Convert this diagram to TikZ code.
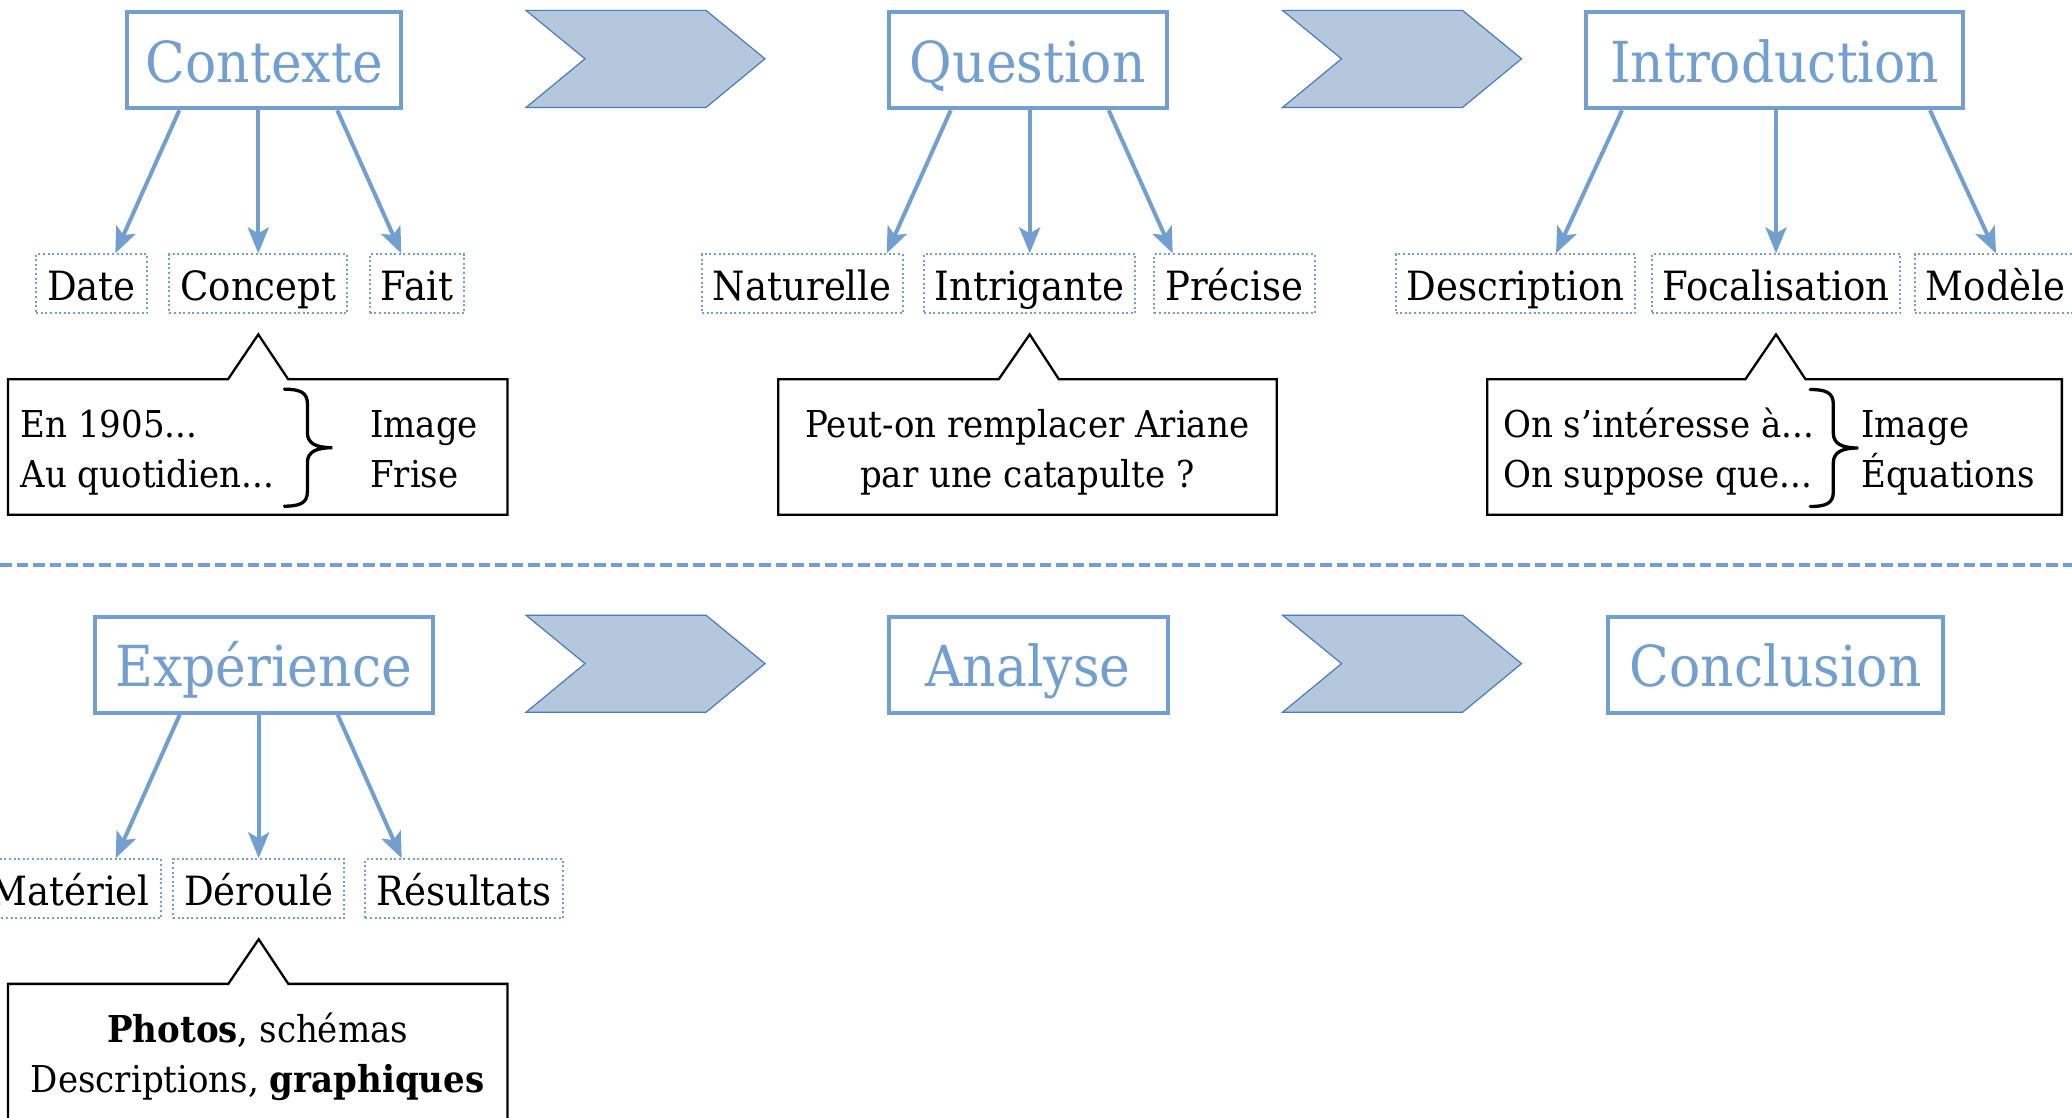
\documentclass[tikz,border=0pt]{standalone}
\usepackage{fontspec}
\setmainfont{DejaVu Serif}[FakeStretch=0.92]
\usetikzlibrary{arrows.meta,calc,shapes.callouts}
\definecolor{lblue}{HTML}{729FCF}
\definecolor{chfill}{HTML}{B4C7DC}
\definecolor{chdraw}{HTML}{4A7BB7}
\tikzset{
 titlebox/.style={draw=lblue, line width=4pt, text=lblue, font=\fontsize{56.5}{60}\selectfont,
   inner xsep=0pt, inner ysep=0pt, minimum height=96pt, text height=70pt, text depth=26pt},
 leaf/.style={draw=lblue, line width=2pt, dash pattern=on 2pt off 2.6pt, font=\fontsize{40.3}{44}\selectfont,
   inner xsep=11pt, inner ysep=0pt, text height=46pt, text depth=13pt},
 arr/.style={draw=lblue, line width=4pt, -{Stealth[length=26pt,width=21pt,inset=6pt]}},
 chev/.style={fill=chfill, draw=chdraw, line width=1.2pt, line join=miter},
 bubble/.style={rectangle callout, draw=black, line width=2.3pt, callout pointer width=60pt,
   inner sep=0pt, minimum height=135.5pt},
 ctext/.style={font=\fontsize{37}{50}\selectfont, inner sep=0pt},
 sepline/.style={draw=lblue, line width=4pt, dash pattern=on 11.5pt off 5pt},
 cbrace/.pic={\draw[line width=3.3pt, line cap=round] (-23,-58.5) .. controls (-7,-58.5) and (0,-55) .. (0,-44)
   -- (0,-15) .. controls (0,-4) and (9,0) .. (25,0) .. controls (9,0) and (0,4) .. (0,15)
   -- (0,44) .. controls (0,55) and (-7,58.5) .. (-23,58.5);}
}
\begin{document}
\begin{tikzpicture}[x=1pt,y=-1pt]
\useasboundingbox (0,0) rectangle (2072,1118);
% chevrons
\foreach \dx/\dy in {0/0,756.5/0,0/604.8,756.5/604.8}{
  \draw[chev, shift={(\dx,\dy)}] (526,10.4) -- (706,10.4) -- (765,58.8) -- (706,107.5) -- (526,107.5) -- (585,58.8) -- cycle;}
% titles
\node[titlebox, minimum width=274pt] (ctx) at (264.3,60.3) {Contexte};
\node[titlebox, minimum width=278pt] (que) at (1027.8,60.3) {Question};
\node[titlebox, minimum width=377pt] (intro) at (1774.7,60.3) {Introduction};
\node[titlebox, minimum width=338pt] (exp) at (263.5,664.7) {Expérience};
\node[titlebox, minimum width=279pt] (ana) at (1028,664.7) {Analyse};
\node[titlebox, minimum width=334.5pt] (concl) at (1775.7,664.7) {Conclusion};
% leaves
\node[leaf] (concept) at (258.3,283.9) {Concept};
\node[leaf, anchor=east] (date) at (147.8,283.9) {Date};
\node[leaf, anchor=west] (fait) at (368.8,283.9) {Fait};
\node[leaf] (intrig) at (1029.7,283.9) {Intrigante};
\node[leaf, anchor=east] (natur) at (903.6,283.9) {Naturelle};
\node[leaf, anchor=west] (precise) at (1153.3,283.9) {Précise};
\node[leaf] (focal) at (1776,283.9) {Focalisation};
\node[leaf, anchor=east] (descr) at (1636.3,283.9) {Description};
\node[leaf, anchor=west] (modele) at (1913.7,283.9) {Modèle};
\node[leaf] (deroule) at (258.7,888.8) {Déroulé};
\node[leaf, anchor=east] (materiel) at (161.7,888.8) {Matériel};
\node[leaf, anchor=west] (result) at (364.3,888.8) {Résultats};
% arrows
\foreach \p/\m/\a/\b in {ctx/concept/79/143, que/intrig/79/143, intro/focal/154/220, exp/deroule/79/143}{
  \draw[arr] (\m.north |- \p.south) -- (\m.north);
  \draw[arr] ($(\m.north |- \p.south)+(-\a,0)$) -- ($(\m.north)+(-\b,0)$);
  \draw[arr] ($(\m.north |- \p.south)+(\a,0)$) -- ($(\m.north)+(\b,0)$);
}
% separator
\coordinate (sl) at (0,565);
\coordinate (sr) at (2072,565);
\draw[sepline] (sl) -- (sr);
% callouts
\node[bubble, minimum width=499.4pt, callout absolute pointer={($(concept.south)+(0,20)$)}] (call1) at (257.75,446.9) {};
\node[bubble, minimum width=498.5pt, callout absolute pointer={($(intrig.south)+(0,20)$)}] (call2) at (1027.4,446.9) {};
\node[bubble, minimum width=574.7pt, callout absolute pointer={($(focal.south)+(0,20)$)}] (call3) at (1774.5,446.9) {};
\node[bubble, minimum width=499.4pt, callout absolute pointer={($(deroule.south)+(0,20)$)}] (call4) at (257.75,1051.6) {};
% callout texts
\node[ctext, anchor=base west] (t1a) at (20.5,437.6) {En 1905...};
\node[ctext, anchor=base west] (t1b) at (20.5,487.6) {Au quotidien...};
\pic at (307.4,447.7) {cbrace};
\node[ctext, anchor=base west] (t1c) at (370,437.6) {Image};
\node[ctext, anchor=base west] (t1d) at (370,487.6) {Frise};
\node[ctext, anchor=base] (t2a) at (1027.4,437.6) {Peut-on remplacer Ariane};
\node[ctext, anchor=base] (t2b) at (1027.4,487.6) {par une catapulte ?};
\node[ctext, anchor=base west] (t3a) at (1503,437.6) {On s’intéresse à...};
\node[ctext, anchor=base west] (t3b) at (1503,487.6) {On suppose que...};
\pic at (1833.3,448) {cbrace};
\node[ctext, anchor=base west] (t3c) at (1861,437.6) {Image};
\node[ctext, anchor=base west] (t3d) at (1861,487.6) {Équations};
\node[ctext, anchor=base] (t4a) at (257.75,1042.3) {\textbf{Photos}, schémas};
\node[ctext, anchor=base] (t4b) at (257.75,1092.3) {Descriptions, \textbf{graphiques}};
\end{tikzpicture}
\end{document}
